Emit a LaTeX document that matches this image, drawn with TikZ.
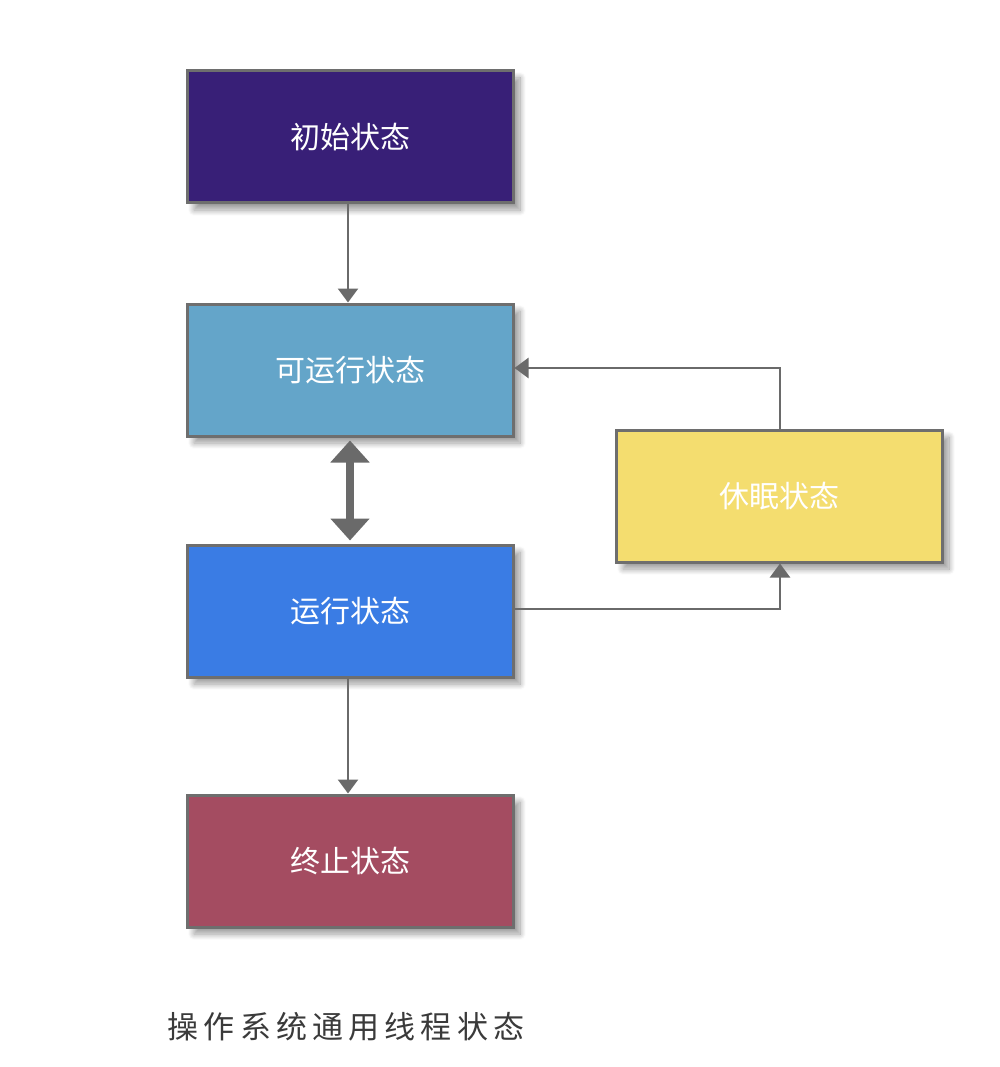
\documentclass[tikz,border=0pt]{standalone}
\usepackage{fontspec}
\newfontfamily\cjk{Noto Sans CJK SC}
\usetikzlibrary{arrows.meta,shadows.blur}
\definecolor{bordergray}{HTML}{6E6E6E}
\definecolor{arrowgray}{HTML}{6A6A6A}
\definecolor{cinit}{HTML}{381F77}
\definecolor{crunnable}{HTML}{64A5C9}
\definecolor{crunning}{HTML}{3A7CE4}
\definecolor{cterm}{HTML}{A44C61}
\definecolor{csleep}{HTML}{F4DD6F}
\definecolor{captiongray}{HTML}{3A3A3A}
\tikzset{
  statebox/.style={draw=bordergray, line width=3pt, minimum width=326pt, minimum height=132pt,
    inner sep=0pt, text=white, font=\cjk\fontsize{30}{34}\selectfont,
    blur shadow={shadow xshift=7pt, shadow yshift=-7pt, shadow blur steps=12, shadow blur radius=6pt, shadow opacity=40}},
  conn/.style={draw=arrowgray, line width=2.5pt, -{Triangle[length=14pt,width=20pt]}},
  bigconn/.style={draw=arrowgray, line width=8pt, {Triangle[length=22pt,width=38pt]}-{Triangle[length=22pt,width=38pt]}, shorten <=3pt, shorten >=3pt},
}
\begin{document}
\begin{tikzpicture}[x=1pt,y=-1pt]
\useasboundingbox (0,0) rectangle (1000,1067);
\node[statebox, fill=cinit] (init) at (350,137) {初始状态};
\node[statebox, fill=crunnable] (runnable) at (350,370) {可运行状态};
\node[statebox, fill=crunning] (running) at (350,611) {运行状态};
\node[statebox, fill=cterm] (term) at (350,861) {终止状态};
\node[statebox, fill=csleep] (sleep) at (779,496) {休眠状态};
\node[font=\cjk\fontsize{31}{34}\selectfont, text=captiongray] (caption) at (346,1027) {操\,作\,系\,统\,通\,用\,线\,程\,状\,态};
\draw[conn] (init.south -| 348,0) -- (runnable.north -| 348,0);
\draw[conn] (running.south -| 348,0) -- (term.north -| 348,0);
\draw[bigconn] (runnable.south -| 350,0) -- (running.north -| 350,0);
\coordinate (s1) at (780,368);
\draw[conn] (sleep.north -| s1) -- (s1) -- (runnable.east |- s1);
\coordinate (s2) at (780,609);
\draw[conn] (running.east |- s2) -- (s2) -- (sleep.south -| s2);
\end{tikzpicture}
\end{document}
